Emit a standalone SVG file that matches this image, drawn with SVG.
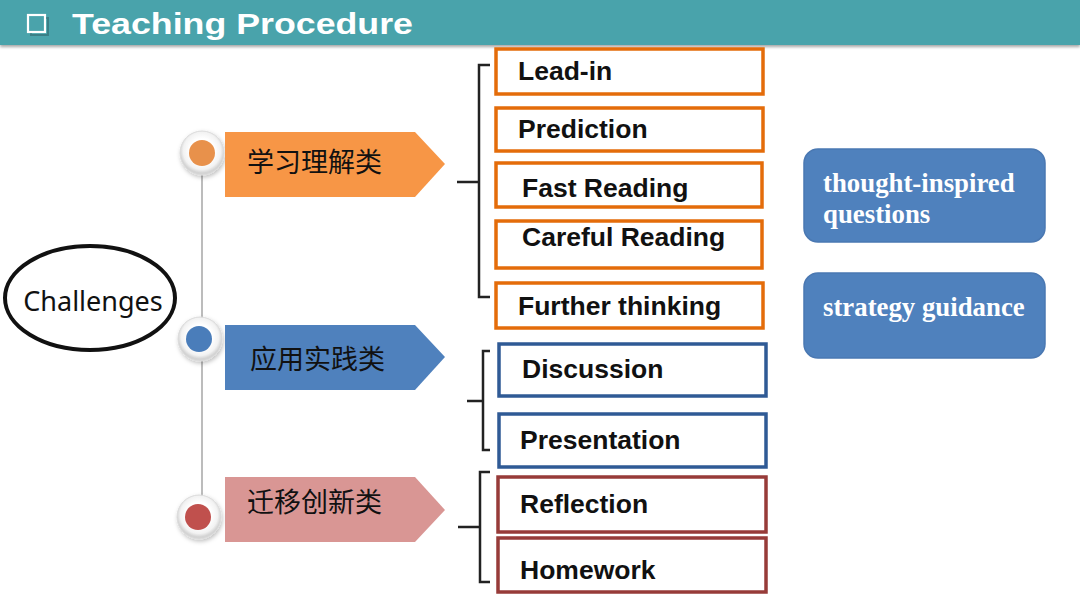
<svg xmlns="http://www.w3.org/2000/svg" width="1080" height="608" viewBox="0 0 1080 608">
<defs>
<filter id="sh" x="-10%" y="-10%" width="120%" height="140%"><feDropShadow dx="0" dy="2" stdDeviation="1.5" flood-color="#000" flood-opacity="0.35"/></filter>
<filter id="sh2" x="-20%" y="-20%" width="140%" height="140%"><feDropShadow dx="1" dy="2" stdDeviation="2" flood-color="#000" flood-opacity="0.25"/></filter>
<radialGradient id="ring" cx="50%" cy="45%" r="50%"><stop offset="0.55" stop-color="#ffffff"/><stop offset="0.85" stop-color="#f2f2f2"/><stop offset="1" stop-color="#d4d4d4"/></radialGradient>
</defs>
<style>
.hdr{font-family:"Liberation Sans",Arial,sans-serif;font-weight:bold;font-size:30px;fill:#fff}
.bx{fill:#fff;stroke-width:3.5}
.or{stroke:#E46C0A}
.bl{stroke:#2F5A95}
.rd{stroke:#973B39}
.bt{font-family:"Liberation Sans",Arial,sans-serif;font-weight:bold;font-size:26.5px;fill:#111}
.cn{font-family:"Noto Sans CJK SC","Noto Sans",sans-serif;font-size:27px;fill:#111}
.rb{fill:#4F81BD;stroke:#4A78B2;stroke-width:1.5}
.rt{font-family:"Liberation Serif","Times New Roman",serif;font-weight:bold;font-size:26.8px;fill:#fff}
.br{fill:none;stroke:#222;stroke-width:2.5}
.ringc{fill:url(#ring);stroke:#dcdcdc;stroke-width:1}
</style>
<rect width="1080" height="608" fill="#fff"/>
<g id="header">
<rect x="0" y="0" width="1080" height="45" fill="#4AA3AB" filter="url(#sh)"/>
<rect x="31" y="18" width="17" height="17" fill="none" stroke="#3a7f86" stroke-width="2"/>
<rect x="28" y="15" width="17" height="17" fill="#4AA3AB" stroke="#fff" stroke-width="2.2"/>
<text class="hdr" x="72" y="34" textLength="341" lengthAdjust="spacingAndGlyphs">Teaching Procedure</text>
</g>
<g id="connectors">
<line x1="202" y1="153" x2="202" y2="517" stroke="#A6A6A6" stroke-width="1.5"/>
<path class="br" d="M490 65 H479 V297 H490 M457 182 H479"/>
<path class="br" d="M490 351 H483 V450 H490 M467 401 H483"/>
<path class="br" d="M490 472 H480 V582 H490 M458 527 H480"/>
</g>
<g id="challenges">
<ellipse cx="90" cy="298" rx="85" ry="52" fill="#fff" stroke="#111" stroke-width="4"/>
<text x="93" y="311" text-anchor="middle" font-family="'Noto Sans','Open Sans',sans-serif" font-size="27" fill="#111">Challenges</text>
</g>
<g id="cat1">
<circle class="ringc" cx="202" cy="153" r="22" filter="url(#sh2)"/>
<circle cx="202" cy="153" r="13" fill="#E8914B"/>
<polygon points="225,132 415,132 445,164 415,197 225,197" fill="#F79646"/>
<text class="cn" x="247" y="172">学习理解类</text>
</g>
<g id="cat2">
<circle class="ringc" cx="200" cy="339" r="22" filter="url(#sh2)"/>
<circle cx="199" cy="339" r="13" fill="#4A7DBA"/>
<polygon points="225,325 415,325 445,357 415,390 225,390" fill="#4F81BD"/>
<text class="cn" x="250" y="369">应用实践类</text>
</g>
<g id="cat3">
<circle class="ringc" cx="199" cy="517" r="22" filter="url(#sh2)"/>
<circle cx="198" cy="517" r="13" fill="#C0504D"/>
<polygon points="225,477 415,477 445,510 415,542 225,542" fill="#D99694"/>
<text class="cn" x="247" y="512">迁移创新类</text>
</g>
<g id="leadin"><rect class="bx or" x="496" y="49" width="267" height="45"/><text class="bt" x="518" y="80">Lead-in</text></g>
<g id="prediction"><rect class="bx or" x="496" y="108" width="267" height="43"/><text class="bt" x="518" y="138">Prediction</text></g>
<g id="fastreading"><rect class="bx or" x="496" y="163" width="266" height="44"/><text class="bt" x="522" y="197">Fast Reading</text></g>
<g id="carefulreading"><rect class="bx or" x="496" y="221" width="266" height="47"/><text class="bt" x="522" y="246">Careful Reading</text></g>
<g id="furtherthinking"><rect class="bx or" x="496" y="283" width="267" height="45"/><text class="bt" x="518" y="315">Further thinking</text></g>
<g id="discussion"><rect class="bx bl" x="499" y="344" width="267" height="52"/><text class="bt" x="522" y="378">Discussion</text></g>
<g id="presentation"><rect class="bx bl" x="499" y="414" width="267" height="53"/><text class="bt" x="520" y="449">Presentation</text></g>
<g id="reflection"><rect class="bx rd" x="498" y="477" width="268" height="55"/><text class="bt" x="520" y="513">Reflection</text></g>
<g id="homework"><rect class="bx rd" x="498" y="538" width="268" height="54"/><text class="bt" x="520" y="579">Homework</text></g>
<g id="thought">
<rect class="rb" x="804" y="149" width="241" height="93" rx="14"/>
<text class="rt" x="823" y="192">thought-inspired</text>
<text class="rt" x="823" y="223">questions</text>
</g>
<g id="strategy">
<rect class="rb" x="804" y="273" width="241" height="85" rx="14"/>
<text class="rt" x="823" y="316">strategy guidance</text>
</g>
</svg>
